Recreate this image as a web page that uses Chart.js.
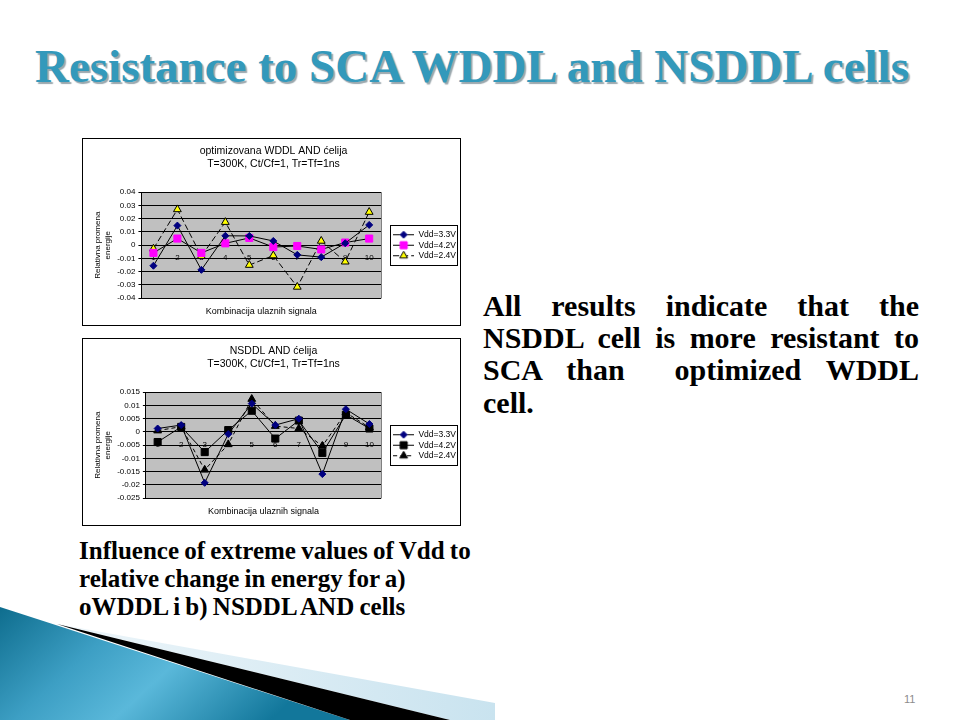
<!DOCTYPE html>
<html>
<head>
<meta charset="utf-8">
<script src="https://cdn.jsdelivr.net/npm/chart.js@4.4.1/dist/chart.umd.min.js"></script>
<style>
body{margin:0;width:960px;height:720px;position:relative;overflow:hidden;background:#fff;font-family:"Liberation Serif","Times New Roman",serif;}
#deco{position:absolute;left:0;top:0;}
#title{position:absolute;left:0;top:38px;width:944px;text-align:center;font:bold 47px/56px "Liberation Serif","Times New Roman",serif;color:#3399bb;text-shadow:2px 2px 1px #9aa7ad;white-space:nowrap;}
.box{position:absolute;left:82px;border:1px solid #000;background:#fff;width:377px;height:186px;}
.box canvas{display:block;}
#note{position:absolute;left:483px;top:290px;width:436px;font:bold 30px/32.2px "Liberation Serif","Times New Roman",serif;color:#000;}
#note .j{text-align:justify;text-align-last:justify;white-space:nowrap;}
#cap{position:absolute;left:79px;top:537px;font:bold 25px/28px "Liberation Serif","Times New Roman",serif;word-spacing:-1px;color:#000;white-space:nowrap;}
#pg{position:absolute;left:904px;top:693px;font:11px "Liberation Sans",Arial,sans-serif;color:#8c8c8c;}
</style>
</head>
<body>
<svg id="deco" width="960" height="720">
  <defs>
    <linearGradient id="blue" x1="0" y1="0" x2="1" y2="0.35">
      <stop offset="0" stop-color="#0e6d8e"/>
      <stop offset="0.35" stop-color="#3d9fc4"/>
      <stop offset="0.6" stop-color="#5ab8da"/>
      <stop offset="1" stop-color="#12779b"/>
    </linearGradient>
    <linearGradient id="pale" x1="0" y1="0" x2="1" y2="0">
      <stop offset="0" stop-color="#eef6fa"/>
      <stop offset="1" stop-color="#c9e3ef"/>
    </linearGradient>
  </defs>
  <polygon points="57,624 495,703 495,720 450,720" fill="url(#pale)"/>
  <polygon points="0,607 350,720 0,720" fill="url(#blue)"/>
  <polygon points="57,624 450,720 350,720" fill="#000"/>
</svg>

<div id="title">Resistance to SCA WDDL and NSDDL cells</div>

<div class="box" style="top:138px"><canvas id="c1" width="377" height="186"></canvas></div>
<div class="box" style="top:338px"><canvas id="c2" width="377" height="186"></canvas></div>

<div id="note">
  <div class="j">All results indicate that the</div>
  <div class="j">NSDDL cell is more resistant to</div>
  <div class="j">SCA than &nbsp;optimized WDDL</div>
  <div>cell.</div>
</div>

<div id="cap">Influence of extreme values of Vdd to<br>relative change in energy for a)<br>oWDDL i b) NSDDL AND cells</div>

<div id="pg">11</div>

<script>
// values
const categories = ['1','2','3','4','5','6','7','8','9','10'];
const seriesNames = ['Vdd=3.3V','Vdd=4.2V','Vdd=2.4V'];

const wddl33 = [-0.0155, 0.0148, -0.0186, 0.0071, 0.0070, 0.0032, -0.0073, -0.0090, 0.0015, 0.0153];
const wddl42 = [-0.0058, 0.0050, -0.0058, 0.0014, 0.0055, -0.0014, -0.0006, -0.0032, 0.0020, 0.0050];
const wddl24 = [-0.0027, 0.0270, -0.0083, 0.0174, -0.0150, -0.0078, -0.0315, 0.0032, -0.0125, 0.0250];

const nsddl33 = [0.0013, 0.0026, -0.0192, -0.0008, 0.0107, 0.0026, 0.0050, -0.0159, 0.0086, 0.0030];
const nsddl42 = [-0.0038, 0.0019, -0.0076, 0.0007, 0.0080, -0.0025, 0.0043, -0.0079, 0.0065, 0.0013];
const nsddl24 = [0.0005, 0.0020, -0.0143, -0.0047, 0.0124, 0.0022, 0.0013, -0.0053, 0.0073, 0.0017];

const wddlTicks = [-0.04, -0.03, -0.02, -0.01, 0, 0.01, 0.02, 0.03, 0.04];
const nsddlTicks = [-0.025, -0.02, -0.015, -0.01, -0.005, 0, 0.005, 0.01, 0.015];

const wddlTitle = ['optimizovana WDDL AND ćelija', 'T=300K, Ct/Cf=1, Tr=Tf=1ns'];
const nsddlTitle = ['NSDDL AND ćelija', 'T=300K, Ct/Cf=1, Tr=Tf=1ns'];
const yTitle = ['Relativna promena', 'energije'];
const xTitle = 'Kombinacija ulaznih signala';

Chart.defaults.font.family = 'Arial, "Liberation Sans", sans-serif';
Chart.defaults.color = '#000';

function series(label, data, style, radius, fill, edge, dash){
    return {
        label: label, data: data,
        pointStyle: style, pointRadius: radius, pointHoverRadius: radius,
        pointBackgroundColor: fill, pointBorderColor: edge, pointBorderWidth: 1,
        borderColor: '#000', borderWidth: 1, borderDash: dash,
        tension: 0, fill: false
    };
}

// small line+marker sample for the legend
function makeIcon(ds){
    const c = document.createElement('canvas');
    c.width = 21; c.height = 11;
    const g = c.getContext('2d');
    g.strokeStyle = '#000'; g.lineWidth = 1;
    g.setLineDash(ds.borderDash || []);
    g.beginPath(); g.moveTo(0, 5.5); g.lineTo(21, 5.5); g.stroke();
    g.setLineDash([]);
    g.fillStyle = ds.pointBackgroundColor;
    g.strokeStyle = ds.pointBorderColor;
    if (Chart.helpers && Chart.helpers.drawPoint) {
        Chart.helpers.drawPoint(g, {pointStyle: ds.pointStyle, radius: ds.pointRadius, borderWidth: 1, rotation: 0}, 10.5, 5.5);
    }
    return c;
}

function iconLabels(chart){
    const items = Chart.defaults.plugins.legend.labels.generateLabels(chart);
    return items.map((it, i) => {
        it.pointStyle = makeIcon(chart.data.datasets[i]);
        it.fontColor = '#000';
        return it;
    });
}

const plotFrame = {
    id: 'plotFrame',
    beforeDraw(chart){
        const a = chart.chartArea, ctx = chart.ctx;
        ctx.save();
        ctx.fillStyle = '#c0c0c0';
        ctx.fillRect(a.left, a.top, a.right - a.left, a.bottom - a.top);
        ctx.restore();
    },
    beforeDatasetsDraw(chart){
        const a = chart.chartArea, ctx = chart.ctx;
        ctx.save();
        ctx.strokeStyle = '#808080'; ctx.lineWidth = 1;
        ctx.beginPath();
        ctx.moveTo(Math.round(a.right) + 0.5, a.top);
        ctx.lineTo(Math.round(a.right) + 0.5, a.bottom);
        ctx.stroke();
        ctx.restore();
    }
};

// Excel keeps the legend a little away from the plot and centred on it
const legendShift = {
    id: 'legendShift',
    afterUpdate(chart){
        const lg = chart.legend, a = chart.chartArea;
        if (!lg) return;
        const dx = a.right + 10 - lg.left;
        const dy = (a.top + a.bottom) / 2 - (lg.top + lg.bottom) / 2;
        lg.left += dx; lg.right += dx;
        lg.top += dy; lg.bottom += dy;
        (lg.legendHitBoxes || []).forEach(h => { h.left += dx; h.top += dy; });
    }
};

const legendFrame = {
    id: 'legendFrame',
    afterDraw(chart){
        const b = chart.legend && chart.legend.legendHitBoxes;
        if (!b || !b.length) return;
        const l = Math.min(...b.map(h => h.left)) - 3;
        const t = Math.min(...b.map(h => h.top)) - 5;
        const r = Math.max(...b.map(h => h.left + h.width)) + 1;
        const btm = Math.max(...b.map(h => h.top + h.height)) + 5;
        const ctx = chart.ctx;
        ctx.save();
        ctx.strokeStyle = '#000'; ctx.lineWidth = 1;
        ctx.strokeRect(Math.round(l) + 0.5, Math.round(t) + 0.5, Math.round(r - l), Math.round(btm - t));
        ctx.restore();
    }
};

function drawChart(id, title, sets, ticks){
    return new Chart(document.getElementById(id), {
        type: 'line',
        data: {labels: categories, datasets: sets},
        options: {
            responsive: false, animation: false, devicePixelRatio: 1,
            layout: {padding: {left: 8, right: 4, top: 0, bottom: 8}},
            plugins: {
                title: {display: true, text: title, color: '#000', font: {size: 10.5, weight: 'normal'}, lineHeight: 1.35, padding: {top: 6, bottom: 22}},
                legend: {
                    position: 'right',
                    labels: {usePointStyle: true, pointStyleWidth: 21, boxHeight: 8, color: '#000', font: {size: 8.5}, padding: 2, generateLabels: iconLabels}
                },
                tooltip: {enabled: false}
            },
            scales: {
                x: {
                    type: 'category', position: {y: 0}, offset: true,
                    grid: {display: false}, border: {display: true, color: '#000'},
                    ticks: {color: '#000', font: {size: 8}, padding: 0, maxRotation: 0, autoSkip: false}
                },
                x2: {
                    type: 'category', position: 'bottom', offset: true,
                    grid: {display: false, drawTicks: false}, border: {display: false},
                    ticks: {display: false},
                    title: {display: true, text: xTitle, color: '#000', font: {size: 9}, padding: {top: 8, bottom: 0}}
                },
                y: {
                    min: ticks[0], max: ticks[ticks.length - 1],
                    afterBuildTicks: s => { s.ticks = ticks.map(v => ({value: v})); },
                    grid: {color: '#000', tickColor: '#000', tickLength: 3},
                    border: {color: '#000'},
                    ticks: {color: '#000', font: {size: 8}, padding: 3, callback: v => String(v)},
                    title: {display: true, text: yTitle, color: '#000', font: {size: 8}, lineHeight: 1.0, padding: 2}
                }
            }
        },
        plugins: [plotFrame, legendShift, legendFrame]
    });
}

drawChart('c1', wddlTitle, [
    series(seriesNames[0], wddl33, 'rectRot', 3.5, '#000080', '#000080', []),
    series(seriesNames[1], wddl42, 'rect', 5, '#ff00ff', '#ff00ff', []),
    series(seriesNames[2], wddl24, 'triangle', 4.5, '#ffff00', '#000000', [6, 3])
], wddlTicks);

drawChart('c2', nsddlTitle, [
    series(seriesNames[0], nsddl33, 'rectRot', 3.5, '#000080', '#000080', []),
    series(seriesNames[1], nsddl42, 'rect', 5, '#000000', '#000000', []),
    series(seriesNames[2], nsddl24, 'triangle', 4.5, '#000000', '#000000', [4, 3])
], nsddlTicks);
</script>
</body>
</html>
